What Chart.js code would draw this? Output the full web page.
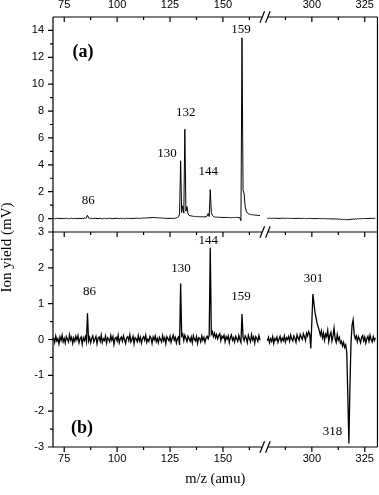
<!DOCTYPE html>
<html>
<head>
<meta charset="utf-8">
<title>Ion yield spectra</title>
<script src="https://cdn.jsdelivr.net/npm/chart.js@4.4.1/dist/chart.umd.min.js"></script>
<style>
  body { margin: 0; background: #fff; }
  #wrap { width: 379px; height: 495px; }
</style>
</head>
<body>
<div id="wrap"><canvas id="spectrumChart" width="379" height="495"></canvas></div>
<script>
  // scans are sampled every 0.5 amu, two mass windows with an axis break between them
  const massStep = 0.5
  const lowMassStart = 70
  const highMassStart = 279
  const axisShift = 108   // high mass window is pulled left to sit after the break

  // panel (a)
  const yieldA_low = [
    0.02, 0.00, -0.02, 0.01, 0.03, -0.01, 0.00, 0.02, -0.02, 0.01,
    0.00, 0.03, -0.01, 0.02, 0.00, -0.02, 0.01, 0.03, 0.00, -0.01,
    0.02, 0.00, 0.01, -0.02, 0.03, 0.01, -0.01, 0.02, 0.00, 0.04,
    0.02, 0.06, 0.25, 0.04, 0.02, 0.00, 0.03, -0.01, 0.01, 0.02,
    0.00, 0.02, -0.01, 0.01, 0.03, 0.00, -0.02, 0.01, 0.02, 0.00,
    0.01, -0.01, 0.02, 0.03, 0.00, 0.01, -0.02, 0.02, 0.00, 0.01,
    0.03, 0.00, -0.01, 0.02, 0.01, 0.00, 0.02, -0.02, 0.01, 0.03,
    0.00, 0.01, 0.02, -0.01, 0.03, 0.01, 0.00, 0.02, 0.04, 0.01,
    0.02, 0.03, 0.00, 0.04, 0.02, 0.05, 0.03, 0.06, 0.04, 0.05,
    0.07, 0.05, 0.08, 0.06, 0.09, 0.07, 0.08, 0.06, 0.05, 0.07,
    0.04, 0.05, 0.03, 0.04, 0.02, 0.03, 0.01, 0.02, 0.00, 0.02,
    0.01, 0.03, 0.00, 0.02, 0.01, 0.03, 0.05, 0.08, 0.12, 0.35,
    4.30, 0.45, 0.95, 0.40, 6.65, 0.55, 0.90, 0.35, 0.24, 0.20,
    0.20, 0.18, 0.17, 0.16, 0.15, 0.16, 0.14, 0.15, 0.13, 0.14,
    0.13, 0.14, 0.12, 0.13, 0.15, 0.18, 0.38, 0.15, 2.15, 0.45,
    0.25, 0.15, 0.12, 0.11, 0.10, 0.11, 0.09, 0.10, 0.08, 0.09,
    0.08, 0.09, 0.07, 0.08, 0.09, 0.07, 0.08, 0.06, 0.07, 0.08,
    0.07, 0.08, 0.07, 0.09, 0.08, 0.07, 0.05, -0.15, 13.45, 2.10,
    1.85, 0.90, 0.55, 0.42, 0.36, 0.33, 0.31, 0.29, 0.28, 0.27,
    0.26, 0.25, 0.24, 0.24, 0.23, 0.22
  ]
  const yieldA_high = [
    0.03, 0.01, 0.04, 0.02, 0.00, 0.03, 0.01, 0.02, 0.04, 0.01,
    0.02, 0.00, 0.03, 0.01, 0.02, 0.04, 0.00, 0.02, 0.01, 0.03,
    0.01, 0.02, 0.00, 0.03, 0.01, -0.01, 0.02, 0.00, 0.01, 0.03,
    0.00, 0.02, 0.01, -0.01, 0.02, 0.00, 0.01, -0.02, 0.01, 0.00,
    0.02, -0.01, 0.01, 0.00, -0.02, 0.01, 0.00, -0.01, 0.02, 0.00,
    -0.01, 0.01, -0.02, 0.00, 0.01, -0.01, -0.03, 0.00, -0.02, -0.01,
    -0.03, -0.02, -0.04, -0.01, -0.03, -0.05, -0.02, -0.04, -0.06, -0.03,
    -0.07, -0.05, -0.08, -0.06, -0.09, -0.07, -0.10, -0.06, -0.08, -0.05,
    -0.06, -0.03, -0.05, -0.02, -0.04, -0.01, -0.03, 0.00, -0.02, 0.01,
    -0.01, 0.02, 0.00, 0.01, -0.01, 0.02, 0.00, 0.01, 0.03, 0.00,
    0.02, 0.01, 0.02
  ]

  // panel (b)
  const yieldB_low = [
    0.05, -0.08, 0.10, -0.04, 0.02, -0.12, 0.07, -0.03, 0.12, -0.06,
    0.03, -0.10, 0.08, 0.01, -0.07, 0.13, -0.02, 0.06, -0.11, 0.04,
    -0.05, 0.09, -0.01, 0.11, -0.09, 0.02, 0.07, -0.13, 0.05, -0.03,
    0.08, -0.06, 0.73, -0.04, 0.06, -0.09, 0.03, 0.10, -0.07, 0.01,
    0.09, -0.12, 0.04, 0.07, -0.05, 0.12, -0.08, 0.02, -0.03, 0.10,
    -0.10, 0.05, 0.01, -0.06, 0.11, -0.02, 0.08, -0.14, 0.03, 0.06,
    -0.04, 0.12, -0.09, 0.02, 0.07, -0.05, 0.10, -0.01, -0.11, 0.04,
    0.08, -0.03, 0.13, -0.07, 0.00, 0.09, -0.12, 0.05, 0.02, -0.06,
    0.11, -0.04, 0.06, -0.10, 0.03, 0.08, -0.02, 0.12, -0.08, 0.01,
    -0.05, 0.09, 0.04, -0.11, 0.07, -0.01, 0.10, -0.06, 0.03, -0.09,
    0.06, 0.00, -0.07, 0.11, -0.03, 0.05, -0.12, 0.08, 0.02, -0.04,
    0.09, -0.08, 0.04, 0.12, -0.02, 0.06, -0.10, 0.03, 0.07, -0.15,
    1.56, 0.10, 0.15, -0.03, 0.12, 0.04, -0.06, 0.09, 0.02, -0.05,
    0.07, -0.09, 0.11, 0.01, -0.04, 0.08, -0.11, 0.05, 0.03, -0.07,
    0.10, -0.02, 0.06, -0.08, 0.04, 0.09, 0.02, 0.12, 2.56, 0.15,
    0.22, 0.08, 0.18, 0.05, 0.14, 0.02, 0.11, 0.16, -0.03, 0.09,
    0.04, 0.12, -0.06, 0.08, 0.01, 0.10, -0.09, 0.06, 0.13, -0.02,
    0.05, -0.07, 0.09, 0.03, -0.05, 0.11, 0.00, -0.08, 0.71, 0.06,
    -0.03, 0.10, 0.04, -0.09, 0.12, 0.02, -0.06, 0.14, -0.01, 0.07,
    -0.10, 0.08, 0.03, -0.05, 0.11, -0.02
  ]
  const yieldB_high = [
    -0.04, 0.06, -0.09, 0.02, -0.05, 0.08, -0.11, 0.03, -0.02, 0.07,
    -0.08, 0.01, 0.09, -0.06, 0.04, -0.03, 0.10, -0.07, 0.05, 0.00,
    0.08, -0.05, 0.12, 0.02, -0.04, 0.10, 0.03, -0.08, 0.13, 0.05,
    -0.02, 0.14, 0.06, 0.00, 0.16, 0.08, -0.03, 0.18, 0.10, 0.22,
    0.15, -0.25, 0.50, 1.27, 1.00, 0.75, 0.60, 0.45, 0.35, 0.25,
    0.12, 0.24, 0.05, 0.18, -0.02, 0.15, 0.08, 0.26, -0.05, 0.12,
    0.20, -0.04, 0.10, 0.32, 0.02, -0.08, 0.14, -0.02, 0.06, -0.10,
    -0.05, -0.18, -0.08, -0.22, -0.15, -0.35, -1.60, -2.90, -1.30, -0.10,
    0.40, 0.55, 0.15, 0.02, 0.10, -0.06, 0.08, 0.01, -0.09, 0.06,
    0.11, -0.04, 0.07, -0.10, 0.03, 0.09, -0.05, 0.12, 0.00, -0.07,
    0.08, -0.03, 0.05
  ]

  // axes
  const xTickLabels = [75, 100, 125, 150, 300, 325]
  const xMinorTicks = [87.5, 112.5, 137.5, 162.5, 287.5, 312.5]
  const yTicksA = [0, 2, 4, 6, 8, 10, 12, 14]
  const yMinorA = [1, 3, 5, 7, 9, 11, 13]
  const yTicksB = [-3, -2, -1, 0, 1, 2, 3]
  const yMinorB = [-2.5, -1.5, -0.5, 0.5, 1.5, 2.5]

  // peak labels (text + where it sits, in m/z and mV)
  const peakTextA = ['86', '130', '132', '144', '159']
  const peakMassA = [86.4, 123.6, 132.4, 143.1, 158.5]
  const peakYieldA = [1.31, 4.86, 7.92, 3.47, 14.1]
  const peakTextB = ['86', '130', '144', '159', '301', '318']
  const peakMassB = [87.0, 130.2, 143.1, 158.5, 300.8, 309.7]
  const peakYieldB = [1.33, 1.98, 2.75, 1.2, 1.71, -2.56]

  const breakAt = 169.9

  function toAxis(m) {
    return m >= highMassStart ? m - axisShift : m
  }
  function fromAxis(v) {
    return v > breakAt ? v + axisShift : v
  }
  function toPoints(start, values) {
    return values.map((y, i) => ({x: toAxis(start + i * massStep), y: y}))
  }

  const serif = '"Liberation Serif", "Times New Roman", serif'
  const sans = '"Liberation Sans", Arial, sans-serif'

  function lineSet(values, start, yAxis, width) {
    return {
      data: toPoints(start, values),
      xAxisID: 'x',
      yAxisID: yAxis,
      borderColor: '#000',
      borderWidth: width,
      pointRadius: 0,
      tension: 0,
      fill: false
    }
  }

  function xAxis(pos, height) {
    return {
      type: 'linear',
      position: pos,
      min: 69.7,
      max: 223,
      afterBuildTicks: s => { s.ticks = xTickLabels.map(m => ({value: toAxis(m)})) },
      afterFit: s => { s.height = height },
      grid: {display: false, drawTicks: false},
      border: {display: false},
      ticks: {
        autoSkip: false, maxRotation: 0, padding: 5, color: '#000',
        font: {family: sans, size: 11},
        callback: v => String(fromAxis(v))
      }
    }
  }

  function yAxis(min, max, list, weight) {
    return {
      type: 'linear',
      position: 'left',
      stack: 'panels',
      stackWeight: 1,
      weight: weight,
      min: min,
      max: max,
      afterBuildTicks: s => { s.ticks = list.map(v => ({value: v})) },
      afterFit: s => { s.width = 38 },
      grid: {display: false, drawTicks: false},
      border: {display: false},
      ticks: {padding: 9, color: '#000', font: {family: sans, size: 11}}
    }
  }

  const bottomAxis = xAxis('bottom', 48)
  bottomAxis.title = {
    display: true, text: 'm/z (amu)', color: '#000',
    font: {family: serif, size: 14.5}, padding: {top: 0, bottom: 7}
  }

  // frame, tick marks, axis break and peak labels
  const panelFrame = {
    id: 'panelFrame',
    afterDraw(chart) {
      const {ctx, chartArea} = chart
      const x = chart.scales.x, ya = chart.scales.ya, yb = chart.scales.yb
      const left = chartArea.left, right = chartArea.right
      const bx = x.getPixelForValue(breakAt)
      ctx.save()
      ctx.strokeStyle = '#000'
      ctx.lineWidth = 1.2
      ctx.beginPath()
      ctx.moveTo(left, chartArea.top); ctx.lineTo(left, chartArea.bottom)
      ctx.moveTo(right, chartArea.top); ctx.lineTo(right, chartArea.bottom)
      ;[chartArea.top, ya.bottom, chartArea.bottom].forEach(y => {
        ctx.moveTo(left, y); ctx.lineTo(bx - 2.8, y)
        ctx.moveTo(bx + 2.8, y); ctx.lineTo(right, y)
        xTickLabels.forEach(m => {
          const px = x.getPixelForValue(toAxis(m))
          ctx.moveTo(px, y); ctx.lineTo(px, y + 5)
        })
        xMinorTicks.forEach(m => {
          const px = x.getPixelForValue(toAxis(m))
          ctx.moveTo(px, y); ctx.lineTo(px, y + 3)
        })
        ;[-2.8, 2.8].forEach(d => {
          ctx.moveTo(bx + d - 2.3, y + 5.8); ctx.lineTo(bx + d + 2.3, y - 5.8)
        })
      })
      function yTicks(scale, list, len) {
        list.forEach(v => {
          const py = scale.getPixelForValue(v)
          ctx.moveTo(left - len, py); ctx.lineTo(left, py)
        })
      }
      yTicks(ya, yTicksA, 5); yTicks(ya, yMinorA, 3)
      yTicks(yb, yTicksB, 5); yTicks(yb, yMinorB, 3)
      ctx.stroke()

      ctx.fillStyle = '#000'
      ctx.textAlign = 'center'
      ctx.textBaseline = 'middle'
      ctx.font = '13px ' + serif
      peakTextA.forEach((t, i) => {
        ctx.fillText(t, x.getPixelForValue(toAxis(peakMassA[i])), ya.getPixelForValue(peakYieldA[i]))
      })
      peakTextB.forEach((t, i) => {
        ctx.fillText(t, x.getPixelForValue(toAxis(peakMassB[i])), yb.getPixelForValue(peakYieldB[i]))
      })
      ctx.font = 'bold 18px ' + serif
      ctx.fillText('(a)', x.getPixelForValue(83.9), ya.getPixelForValue(12.38))
      ctx.fillText('(b)', x.getPixelForValue(83.4), yb.getPixelForValue(-2.49))
      ctx.restore()
    }
  }

  new Chart(document.getElementById('spectrumChart'), {
    type: 'line',
    data: {
      datasets: [
        lineSet(yieldA_low, lowMassStart, 'ya', 1),
        lineSet(yieldA_high, highMassStart, 'ya', 1),
        lineSet(yieldB_low, lowMassStart, 'yb', 1.3),
        lineSet(yieldB_high, highMassStart, 'yb', 1.3)
      ]
    },
    options: {
      responsive: false,
      animation: false,
      layout: {padding: {right: 1}},
      plugins: {
        legend: {display: false},
        tooltip: {enabled: false},
        title: {
          display: true, position: 'left', text: 'Ion yield (mV)', color: '#000',
          font: {family: serif, size: 15, weight: 'normal', lineHeight: 1}, padding: 0
        }
      },
      scales: {
        x: bottomAxis,
        xTop: xAxis('top', 17),
        ya: yAxis(-1, 15, yTicksA, 1),
        yb: yAxis(-3, 3, yTicksB, 0)
      }
    },
    plugins: [panelFrame]
  })
</script>
</body>
</html>
